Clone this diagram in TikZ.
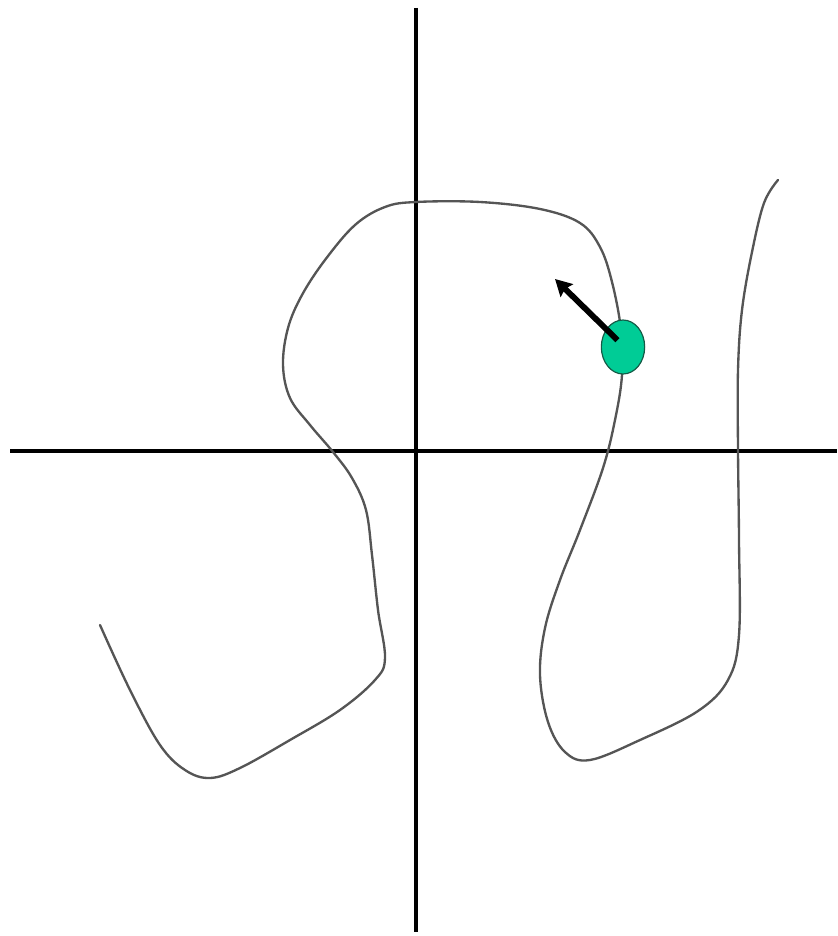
\documentclass[tikz,border=0pt]{standalone}
\usepackage{tikz}
\usetikzlibrary{arrows.meta,calc,shapes.geometric}
\definecolor{ballgreen}{RGB}{0,204,150}
\definecolor{balledge}{RGB}{20,90,70}
\definecolor{pathgray}{RGB}{85,85,85}
\tikzset{
  axisline/.style={line width=2.7pt, black},
  trackline/.style={pathgray, line width=2pt, line cap=round, line join=round},
  ballnode/.style={ellipse, draw=balledge, fill=ballgreen, line width=1pt,
    minimum width=1.3cm, minimum height=1.62cm, inner sep=0pt}
}

\begin{document}
\begin{tikzpicture}[x=0.03cm, y=-0.03cm]
  \useasboundingbox (0,0) rectangle (837,936);

  % Axes through the origin.
  \coordinate (ytop) at (416,8);
  \coordinate (ybot) at (416,932);
  \coordinate (xleft) at (10,451);
  \coordinate (xright) at (837,451);
  \draw[axisline] (ytop) -- (ybot);
  \draw[axisline] (xleft) -- (xright);

  % The wandering track, drawn from its left end to its right end.
  \draw[trackline] plot[smooth, tension=0.6] coordinates {
    (100,625) (130,690) (160,745) (185,770) (210,778) (240,768) (290,740)
    (340,710) (375,680) (385,658) (378,610) (372,555) (366,510) (352,478)
    (333,452) (310,425) (290,398) (283,365) (288,328) (302,295) (325,260)
    (355,225) (385,207) (416,202) (480,202) (540,209) (580,223) (600,247)
    (612,282) (621,330) (622,375) (615,420) (603,468) (580,530) (560,580)
    (545,628) (540,675) (548,722) (565,752) (590,760) (640,740) (698,711)
    (728,680) (739,635) (739,540) (738,450) (738,370) (742,310) (752,252)
    (764,203) (778,180)};

  % The particle and its velocity.
  \node[ballnode] (ball) at (623,347) {};
  \coordinate (vtip) at (555,279);
  \draw[line width=5pt, -{Stealth[length=14pt,width=15pt,inset=2pt]}]
    ($(ball.center)!0.35!(ball.north west)$) -- (vtip);
\end{tikzpicture}
\end{document}
